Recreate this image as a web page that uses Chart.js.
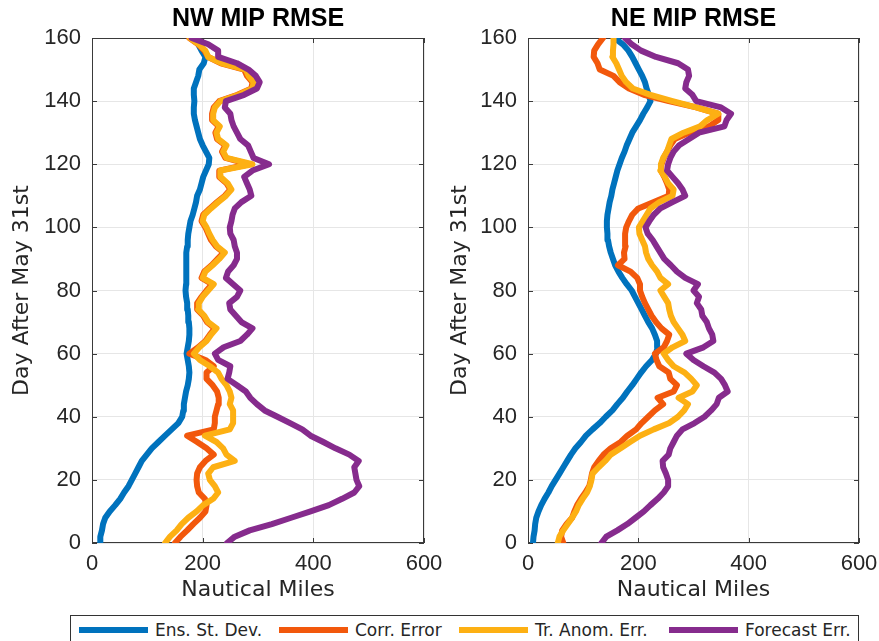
<!DOCTYPE html>
<html>
<head>
<meta charset="UTF-8">
<script src="https://cdn.jsdelivr.net/npm/chart.js"></script>
<style>
  html, body { margin:0; padding:0; background:#fff; }
  body { width:879px; height:641px; position:relative; overflow:hidden; font-family:'DejaVu Sans', sans-serif; }
  canvas { position:absolute; top:0; }
  #nw { left:0; }
  #ne { left:440px; }
  .legend { position:absolute; left:70px; top:615px; width:787px; height:30px; border:1px solid #333; background:#fff; }
  .item { position:absolute; top:0; height:28px; display:flex; align-items:center; font-size:17px; color:#262626; white-space:nowrap; }
  .swatch { width:69px; height:6px; margin-right:7px; }
</style>
</head>
<body>
<canvas id="nw" width="470" height="604"></canvas>
<canvas id="ne" width="439" height="604"></canvas>
<div class="legend" id="legend"></div>

<script>
// y values: day after May 31st (sampled every 2 days)
const days = [0,2,4,6,8,10,12,14,16,18,20,22,24,26,28,30,32,34,36,38,
  40,42,44,46,48,50,52,54,56,58,60,62,64,66,68,70,72,74,76,78,
  80,82,84,86,88,90,92,94,96,98,100,102,104,106,108,110,112,114,116,118,
  120,122,124,126,128,130,132,134,136,138,140,142,144,146,148,150,152,154,156,158,160];

const seriesNames = ["Ens. St. Dev.", "Corr. Error", "Tr. Anom. Err.", "Forecast Err."];
const seriesColors = ["#0072BD", "#F2580C", "#FDB013", "#862B8D"];

// NW panel, nautical miles
const nwEns = [15,15,18,20,24,32,42,51,58,66,
  72,78,84,90,99,108,120,132,144,156,
  163,165,166,168,170,173,175,176,175,173,
  171,173,175,176,176,175,174,173,172,170,
  169,170,170,170,170,171,171,172,173,174,
  176,178,182,185,188,190,195,198,201,206,
  211,212,206,200,195,192,189,186,184,184,
  185,184,184,188,192,194,202,205,198,192,
  185];
const nwCorr = [150,160,172,183,195,205,207,204,193,190,
  189,190,195,205,220,207,190,172,220,222,
  222,225,228,229,226,218,207,207,220,205,
  176,192,205,213,222,208,201,190,190,198,
  207,217,198,203,216,227,238,224,215,210,
  205,198,201,213,226,240,250,243,230,230,
  284,241,235,241,226,223,229,217,217,220,
  230,263,288,290,280,275,233,210,203,192,
  176];
const nwTr = [132,141,153,162,174,189,201,219,228,222,
  213,210,219,258,243,237,225,204,249,255,
  255,255,249,252,249,243,234,228,213,195,
  184,194,207,215,225,210,203,192,193,200,
  210,220,200,205,218,230,240,226,218,212,
  207,200,203,215,228,242,252,245,232,232,
  290,243,237,243,228,225,231,219,219,222,
  232,265,290,292,283,278,235,210,205,193,
  177];
const nwFc = [244,258,285,325,360,395,428,452,474,483,
  478,476,474,482,465,440,418,395,380,358,
  335,312,298,286,278,262,245,248,250,228,
  222,238,268,280,290,270,260,250,248,262,
  268,255,242,246,256,262,262,258,256,250,
  249,252,254,258,270,288,285,280,275,290,
  320,292,287,282,268,262,256,252,250,240,
  242,275,298,303,296,283,262,228,228,210,
  180];

// NE panel, nautical miles
const neEns = [9,10,12,13,15,19,24,30,37,43,
  50,57,64,71,78,86,96,105,117,130,
  141,153,162,172,180,189,197,205,214,225,
  232,235,234,230,225,218,212,206,200,194,
  188,179,171,164,158,154,150,147,145,144,
  143,143,144,146,148,151,153,156,159,162,
  166,170,175,179,184,189,196,203,209,216,
  222,219,215,212,207,201,195,189,182,172,
  157];
const neCorr = [64,60,62,70,80,84,89,96,104,111,
  114,116,120,128,137,150,168,180,196,206,
  218,230,245,235,264,270,258,255,238,233,
  230,246,252,256,242,232,224,218,212,207,
  203,203,198,186,163,175,174,177,176,176,
  178,183,189,200,228,255,256,252,247,241,
  242,246,252,258,266,292,328,345,345,305,
  255,210,183,166,155,130,126,119,120,127,
  136];
const neTr = [54,57,64,72,80,87,92,99,107,112,
  115,117,128,140,150,168,185,203,228,256,
  272,283,290,273,298,306,296,284,264,254,
  246,262,285,280,272,264,259,256,254,247,
  240,254,240,234,225,218,214,212,207,202,
  201,208,215,222,238,262,264,254,248,240,
  241,245,252,256,260,282,312,325,345,305,
  262,222,190,178,170,165,160,153,154,155,
  155];
const neFc = [133,142,162,180,195,210,222,235,246,254,
  254,250,245,244,255,258,264,270,280,302,
  320,332,342,346,362,357,350,338,318,300,
  287,318,336,334,328,324,316,314,306,310,
  300,308,285,270,259,247,240,233,226,217,
  213,220,228,240,262,285,280,272,262,252,
  254,258,264,274,292,310,356,360,368,350,
  305,298,285,287,292,290,272,232,205,188,
  176];

const textColor = "#262626";
const tickFont = { family: "'Liberation Sans', Arial, sans-serif", size: 22 };
const axisFont = { family: "'DejaVu Sans', sans-serif", size: 22 };

function toPoints(vals) {
  return vals.map((v, i) => ({ x: v, y: days[i] }));
}

// box round the axes and MATLAB style inner ticks
const frame = {
  id: "frame",
  beforeDatasetsDraw(chart) {
    const { ctx, chartArea: a, scales: { x, y } } = chart;
    ctx.save();
    ctx.strokeStyle = "#3a3a3a";
    ctx.lineWidth = 1;
    ctx.beginPath();
    x.ticks.forEach(t => {
      const p = Math.round(x.getPixelForValue(t.value)) + 0.5;
      ctx.moveTo(p, a.bottom); ctx.lineTo(p, a.bottom - 5);
      ctx.moveTo(p, a.top); ctx.lineTo(p, a.top + 5);
    });
    y.ticks.forEach(t => {
      const p = Math.round(y.getPixelForValue(t.value)) + 0.5;
      ctx.moveTo(a.left, p); ctx.lineTo(a.left + 5, p);
      ctx.moveTo(a.right, p); ctx.lineTo(a.right - 5, p);
    });
    ctx.stroke();
    ctx.strokeRect(Math.round(a.left) + 0.5, Math.round(a.top) + 0.5,
      Math.round(a.width) - 1, Math.round(a.height) - 1);
    ctx.restore();
  }
};

function makeChart(id, title, values, yWidth, padRight, yTitlePad) {
  const datasets = values.map((vals, i) => ({
    label: seriesNames[i],
    data: toPoints(vals),
    showLine: true,
    borderColor: seriesColors[i],
    backgroundColor: seriesColors[i],
    borderWidth: 6,
    pointRadius: 0,
    borderJoinStyle: "round",
    borderCapStyle: "round",
    order: 4 - i
  }));
  return new Chart(document.getElementById(id), {
    type: "scatter",
    data: { datasets },
    options: {
      responsive: false,
      animation: false,
      layout: { padding: { right: padRight } },
      plugins: {
        legend: { display: false },
        tooltip: { enabled: false },
        title: {
          display: true,
          text: title,
          fullSize: false,
          color: "#000",
          font: { family: "'Liberation Sans', Arial, sans-serif", size: 25, weight: "bold" },
          padding: { top: 4, bottom: 4 }
        }
      },
      scales: {
        x: {
          type: "linear",
          min: 0,
          max: 600,
          ticks: { stepSize: 200, padding: 8, color: textColor, font: tickFont },
          grid: { color: "#e6e6e6", drawTicks: false },
          border: { display: false },
          title: { display: true, text: "Nautical Miles", color: textColor, font: axisFont, padding: { top: 0, bottom: 1 } },
          afterFit(s) { s.height = 61; s.paddingLeft = 0; s.paddingRight = 0; }
        },
        y: {
          type: "linear",
          min: 0,
          max: 160,
          ticks: { stepSize: 20, padding: 11, color: textColor, font: tickFont },
          grid: { color: "#e6e6e6", drawTicks: false },
          border: { display: false },
          title: { display: true, text: "Day After May 31st", color: textColor, font: axisFont, padding: { top: yTitlePad, bottom: 0 } },
          afterFit(s) { s.width = yWidth; s.paddingTop = 0; s.paddingBottom = 0; }
        }
      }
    },
    plugins: [frame]
  });
}

makeChart("nw", "NW MIP RMSE", [nwEns, nwCorr, nwTr, nwFc], 92, 46, 9);
makeChart("ne", "NE MIP RMSE", [neEns, neCorr, neTr, neFc], 88, 20, 7);

// shared legend below both panels
const legendPos = [8, 208, 388, 598];
const legend = document.getElementById("legend");
seriesNames.forEach((name, i) => {
  const item = document.createElement("div");
  item.className = "item";
  item.style.left = legendPos[i] + "px";
  item.innerHTML = `<span class="swatch" style="background:${seriesColors[i]}"></span><span>${name}</span>`;
  legend.appendChild(item);
});
</script>
</body>
</html>
